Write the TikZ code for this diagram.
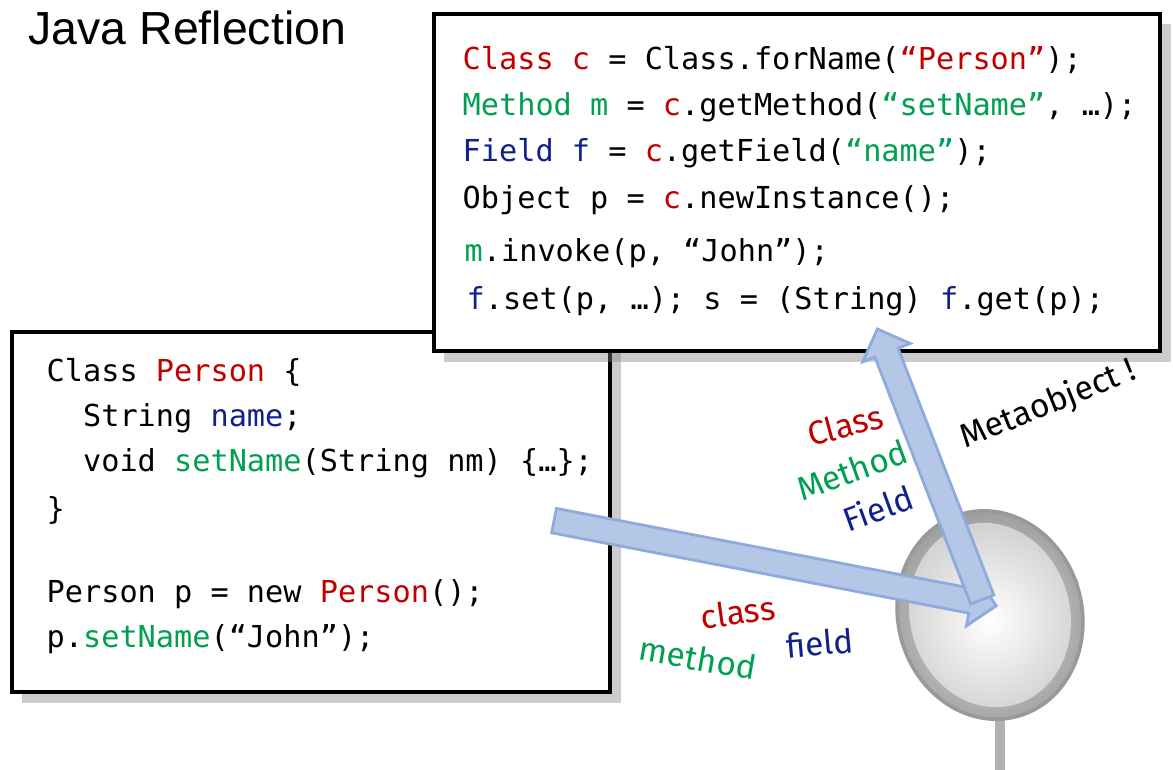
\documentclass[tikz,border=0pt]{standalone}
\usepackage{fontspec}
\setmainfont{Liberation Sans}
\newfontfamily\codefont{DejaVu Sans Mono}
\newfontfamily\handfont{Fira Sans}
\usetikzlibrary{shapes.arrows,shadows}
\definecolor{cr}{HTML}{C00000}
\definecolor{cg}{HTML}{00A050}
\definecolor{cb}{HTML}{10208C}
\definecolor{arrf}{HTML}{B4C7E7}
\definecolor{arrd}{HTML}{8FAADC}
\begin{document}
\begin{tikzpicture}[x=0.01cm,y=-0.01cm,
  box/.style={draw=black,line width=1pt,fill=white,drop shadow={shadow xshift=3pt,shadow yshift=-3pt,opacity=0.4}},
  code/.style={anchor=west,inner sep=0,font=\codefont\fontsize{8.6}{10}\selectfont},
  hand/.style={inner sep=0,font=\handfont\fontsize{9.5}{11}\selectfont},
  barrow/.style={single arrow,draw=arrd,fill=arrf,line width=0.8pt,inner xsep=0,inner ysep=0.11cm,minimum width=0,single arrow head extend=0.13cm,single arrow head indent=0cm}]
\useasboundingbox (0,0) rectangle (1173,770);
\node[anchor=west,inner sep=0,font=\fontsize{13.2}{15}\selectfont] (title) at (28,28) {Java Reflection};
% mirror
\draw[line width=3pt,gray!60] (1000,700) -- (1000,770);
\draw[line width=3pt,gray!70] (1072,580) .. controls (1088,650) and (1060,712) .. (1000,714);
\shade[inner color=gray!20,outer color=gray!75,draw=gray!80,line width=1pt,rotate around={15:(990,615)}] (990,615) ellipse (92 and 105);
\shade[inner color=white,outer color=gray!35,rotate around={15:(990,615)}] (990,615) ellipse (80 and 93);
% boxes
\node[box,minimum width=5.98cm,minimum height=3.6cm,anchor=north west] (pbox) at (10,330) {};
\node[box,minimum width=7.26cm,minimum height=3.37cm,anchor=north west] (rbox) at (432,12) {};
\node[code] (l1) at (462,60) {\textcolor{cr}{Class c} = Class.forName(\textcolor{cr}{“Person”});};
\node[code] (l2) at (462,107) {\textcolor{cg}{Method m} = \textcolor{cr}{c}.getMethod(\textcolor{cg}{“setName”}, …);};
\node[code] (l3) at (462,153) {\textcolor{cb}{Field f} = \textcolor{cr}{c}.getField(\textcolor{cg}{“name”});};
\node[code] (l4) at (462,200) {Object p = \textcolor{cr}{c}.newInstance();};
\node[code] (l5) at (464,253) {\textcolor{cg}{m}.invoke(p, “John”);};
\node[code] (l6) at (466,301) {\textcolor{cb}{f}.set(p, …); s = (String) \textcolor{cb}{f}.get(p);};
\node[code] (p1) at (46,372) {Class \textcolor{cr}{Person} \{};
\node[code] (p2) at (46,418) {\ \ String \textcolor{cb}{name};};
\node[code] (p3) at (46,463) {\ \ void \textcolor{cg}{setName}(String nm) \{…\};};
\node[code] (p4) at (46,510) {\}};
\node[code] (p5) at (46,594) {Person p = new \textcolor{cr}{Person}();};
\node[code] (p6) at (46,639) {p.\textcolor{cg}{setName}(“John”);};
% arrows
\node[barrow,minimum height=4.5cm,rotate=-10.9] (a1) at (769,562) {};
\node[barrow,minimum height=2.9cm,rotate=111.2] (a2) at (932,470) {};
% labels
\node[hand,cr,rotate=15] (lc) at (845,425) {Class};
\node[hand,cg,rotate=20] (lm) at (852,470) {Method};
\node[hand,cb,rotate=20] (lf) at (878,508) {Field};
\node[hand,black,rotate=22] (lo) at (1048,405) {Metaobject !};
\node[hand,cr,rotate=8] (sc) at (738,612) {class};
\node[hand,cg,rotate=-10] (sm) at (698,658) {method};
\node[hand,cb,rotate=5] (sf) at (820,643) {field};
\end{tikzpicture}
\end{document}
